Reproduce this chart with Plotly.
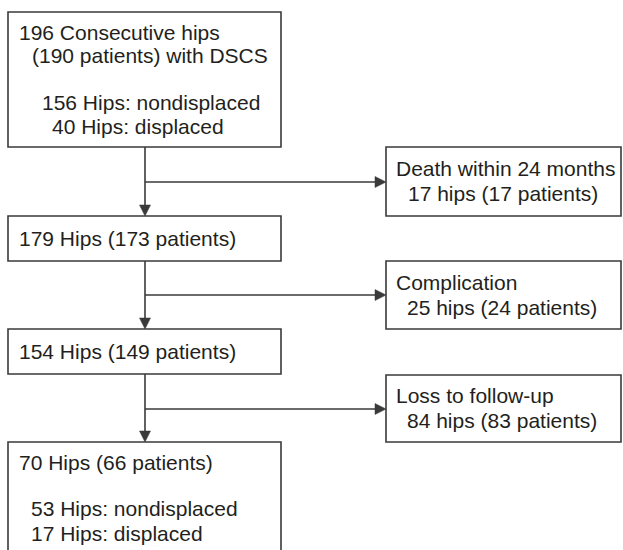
import plotly.graph_objects as go

# ---- data ----
main_hips = [196, 179, 154, 70]
main_patients = [190, 173, 149, 66]
nondisplaced_hips = [156, 53]
displaced_hips = [40, 17]
excl_labels = ["Death within 24 months", "Complication", "Loss to follow-up"]
excl_hips = [17, 25, 84]
excl_patients = [17, 24, 83]

# ---- layout geometry (pixels) ----
W, H = 623, 550
main_x0, main_x1 = 8, 281
main_boxes_y = [(12, 147), (216, 261), (329, 374), (442, 560)]
side_x0, side_x1 = 386, 621
side_boxes_y = [(147, 216), (261, 329), (375, 442)]
branch_y = [182, 295, 409]
stem_x = 145

LINE = "#3a3a3a"
TXT = "#231f20"
FONT = "Liberation Sans, Arial, Helvetica, sans-serif"
FS = 21
DX = -2  # annotation padding compensation

fig = go.Figure()
shapes = []
ann = []

def add_text(x, y, s):
    ann.append(dict(x=x + DX, y=y, text=s, showarrow=False, xanchor="left", yanchor="middle",
                    xref="x", yref="y", font=dict(family=FONT, size=FS, color=TXT),
                    borderpad=0))

def rect(x0, y0, x1, y1):
    shapes.append(dict(type="rect", x0=x0, y0=y0, x1=x1, y1=y1, xref="x", yref="y",
                       line=dict(color=LINE, width=1.6), fillcolor="rgba(0,0,0,0)"))

def line(x0, y0, x1, y1):
    shapes.append(dict(type="line", x0=x0, y0=y0, x1=x1, y1=y1, xref="x", yref="y",
                       line=dict(color=LINE, width=1.6)))

def tri_down(x, y):
    shapes.append(dict(type="path", path=f"M {x-5.5} {y-11} L {x+5.5} {y-11} L {x} {y} Z",
                       xref="x", yref="y", fillcolor=LINE, line=dict(color=LINE, width=0.5)))

def tri_right(x, y):
    shapes.append(dict(type="path", path=f"M {x-11} {y-5.5} L {x-11} {y+5.5} L {x} {y} Z",
                       xref="x", yref="y", fillcolor=LINE, line=dict(color=LINE, width=0.5)))

# main boxes
for (y0, y1) in main_boxes_y:
    rect(main_x0, y0, main_x1, y1)
# side boxes
for (y0, y1) in side_boxes_y:
    rect(side_x0, y0, side_x1, y1)
# connectors
for i in range(3):
    line(stem_x, main_boxes_y[i][1], stem_x, main_boxes_y[i + 1][0] - 10)
    tri_down(stem_x, main_boxes_y[i + 1][0])
    line(stem_x, branch_y[i], side_x0 - 10, branch_y[i])
    tri_right(side_x0, branch_y[i])

# texts in main boxes
add_text(20, 32, f"{main_hips[0]} Consecutive hips")
add_text(33, 55, f"({main_patients[0]} patients) with DSCS")
add_text(43, 102, f"{nondisplaced_hips[0]} Hips: nondisplaced")
add_text(53, 126, f"{displaced_hips[0]} Hips: displaced")
add_text(20, 238, f"{main_hips[1]} Hips ({main_patients[1]} patients)")
add_text(20, 351, f"{main_hips[2]} Hips ({main_patients[2]} patients)")
add_text(20, 462, f"{main_hips[3]} Hips ({main_patients[3]} patients)")
add_text(32, 508, f"{nondisplaced_hips[1]} Hips: nondisplaced")
add_text(32, 533, f"{displaced_hips[1]} Hips: displaced")

# side box texts
side_first_y = [168, 282, 395]
side_second_x = [409, 408, 408]
for i in range(3):
    add_text(397, side_first_y[i], excl_labels[i])
    add_text(side_second_x[i], side_first_y[i] + 25, f"{excl_hips[i]} hips ({excl_patients[i]} patients)")

fig.update_layout(
    width=W, height=H,
    margin=dict(l=0, r=0, t=0, b=0),
    paper_bgcolor="white", plot_bgcolor="white",
    xaxis=dict(range=[0, W], visible=False, fixedrange=True),
    yaxis=dict(range=[H, 0], visible=False, fixedrange=True),
    shapes=shapes, annotations=ann, showlegend=False,
)
fig.write_html("out.html", config={"displayModeBar": False},
               post_script="document.body.style.margin='0';document.body.style.overflow='hidden';")
